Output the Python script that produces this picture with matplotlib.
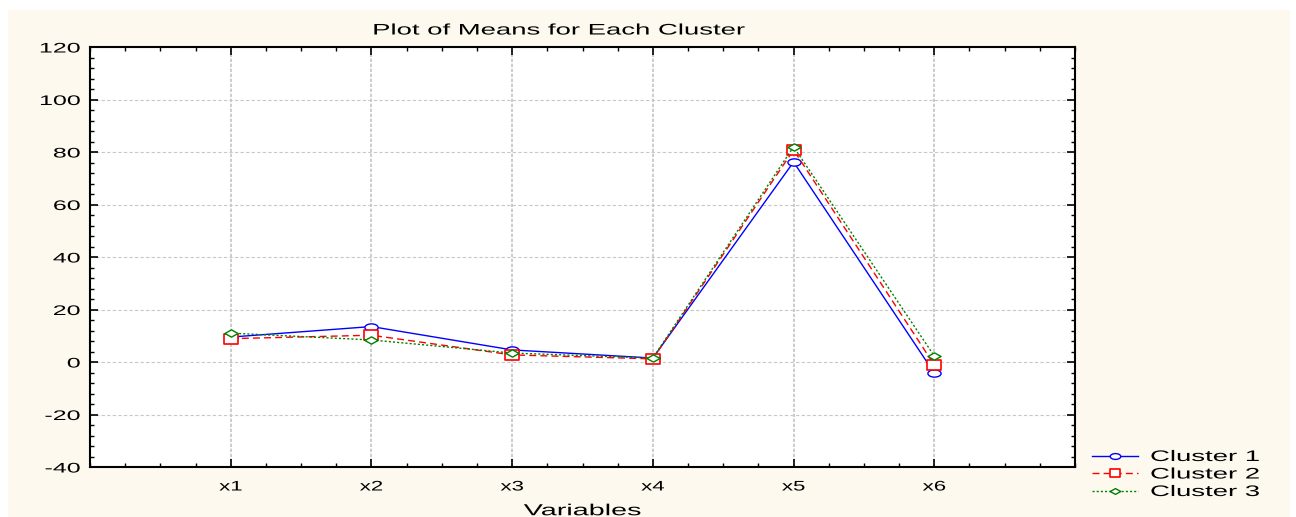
import matplotlib
matplotlib.use("Agg")
import matplotlib.pyplot as plt
from matplotlib.patches import Rectangle
from matplotlib.path import Path
from matplotlib.patheffects import AbstractPathEffect
from matplotlib.transforms import Affine2D
from matplotlib.ticker import MultipleLocator

plt.rcParams['font.family'] = ['Liberation Sans', 'DejaVu Sans']
plt.rcParams['axes.unicode_minus'] = False

variables = ["x1", "x2", "x3", "x4", "x5", "x6"]
cluster1 = [9.5, 13.5, 4.6, 1.5, 76.2, -4.2]
cluster2 = [8.9, 10.2, 2.7, 1.2, 80.8, -1.1]
cluster3 = [11.0, 8.4, 3.4, 1.5, 82.0, 2.3]


class Wide(AbstractPathEffect):
    # the original picture is stretched sideways, so widen the glyphs
    def __init__(self, sx=1.8, anchor="center"):
        super().__init__()
        self.sx = sx
        self.anchor = anchor

    def draw_path(self, renderer, gc, tpath, affine, rgbFace=None):
        ext = tpath.get_extents()
        if self.anchor == "left":
            x0 = 0
        elif self.anchor == "right":
            x0 = ext.x1
        else:
            x0 = (ext.x0 + ext.x1) / 2
        st = Affine2D().translate(-x0, 0).scale(self.sx, 1).translate(x0, 0)
        renderer.draw_path(gc, tpath, st + affine, rgbFace)


# wide markers to go with the stretched look
ellipse = Path.unit_circle().transformed(Affine2D().scale(1, 0.55))
rect = Path([(-1, -0.7), (1, -0.7), (1, 0.7), (-1, 0.7), (-1, -0.7)],
            [Path.MOVETO, Path.LINETO, Path.LINETO, Path.LINETO, Path.CLOSEPOLY])
diamond = Path([(-1, 0), (0, 0.55), (1, 0), (0, -0.55), (-1, 0)],
               [Path.MOVETO, Path.LINETO, Path.LINETO, Path.LINETO, Path.CLOSEPOLY])

fig = plt.figure(figsize=(12.96, 5.17), dpi=100)
fig.patch.set_facecolor("white")
fig.patches.append(Rectangle((8 / 1296, 0), 1 - 14 / 1296, 1 - 10 / 517,
                             transform=fig.transFigure, facecolor="#fdf9ee",
                             edgecolor="none", zorder=-10))

ax = fig.add_axes([90 / 1296, 1 - 467 / 517, 985 / 1296, 420 / 517])
ax.set_facecolor("white")

pos = list(range(1, len(variables) + 1))
ax.plot(pos, cluster1, color="#0000ff", lw=1.0, ls="-", marker=ellipse, ms=9.5,
        mfc="white", mec="#0000ff", mew=1.0, label="Cluster 1")
ax.plot(pos, cluster2, color="#ff0000", lw=1.0, ls=(0, (5, 3)), marker=rect, ms=9.5,
        mfc="white", mec="#ff0000", mew=1.2, label="Cluster 2")
ax.plot(pos, cluster3, color="#008000", lw=1.0, ls=(0, (1.5, 1.5)), marker=diamond, ms=9.5,
        mfc="white", mec="#008000", mew=1.0, label="Cluster 3")

ax.set_xlim(0, 7)
ax.set_ylim(-40, 120)
ax.set_xticks(pos)
ax.set_xticklabels(variables)
ax.xaxis.set_minor_locator(MultipleLocator(0.25))
ax.yaxis.set_major_locator(MultipleLocator(20))
ax.yaxis.set_minor_locator(MultipleLocator(4))
ax.tick_params(which="both", direction="in", top=True, right=True)
ax.tick_params(axis="x", labelsize=10, pad=9)
ax.tick_params(axis="y", labelsize=10, pad=7)
ax.tick_params(which="major", length=6, width=1.2)
ax.tick_params(which="minor", length=3, width=1)
ax.grid(axis="x", which="major", color="#c4c4c4", lw=1.2, ls=(0, (2, 1)))
ax.grid(axis="y", which="major", color="#c8c8c8", lw=0.8, ls=(0, (3, 2)))
ax.set_axisbelow(True)
for s in ax.spines.values():
    s.set_linewidth(1.5)

ax.set_title("Plot of Means for Each Cluster", fontsize=11, pad=9, x=0.476)
ax.set_xlabel("Variables", fontsize=11.5, labelpad=7)

leg = ax.legend(loc="upper left", bbox_to_anchor=(1092 / 1296, 1 - 450 / 517),
                bbox_transform=fig.transFigure, frameon=False, fontsize=11,
                handlelength=3.0, labelspacing=0.23, borderpad=0,
                borderaxespad=0, handletextpad=0.8, markerscale=0.8)

ax.title.set_path_effects([Wide(1.8, "center")])
ax.xaxis.label.set_path_effects([Wide(1.8, "center")])
for t in ax.get_xticklabels():
    t.set_path_effects([Wide(1.6, "center")])
for t in ax.get_yticklabels():
    t.set_path_effects([Wide(1.8, "right")])
for t in leg.get_texts():
    t.set_path_effects([Wide(1.8, "left")])

fig.savefig("out.png", dpi=100, facecolor=fig.get_facecolor())
